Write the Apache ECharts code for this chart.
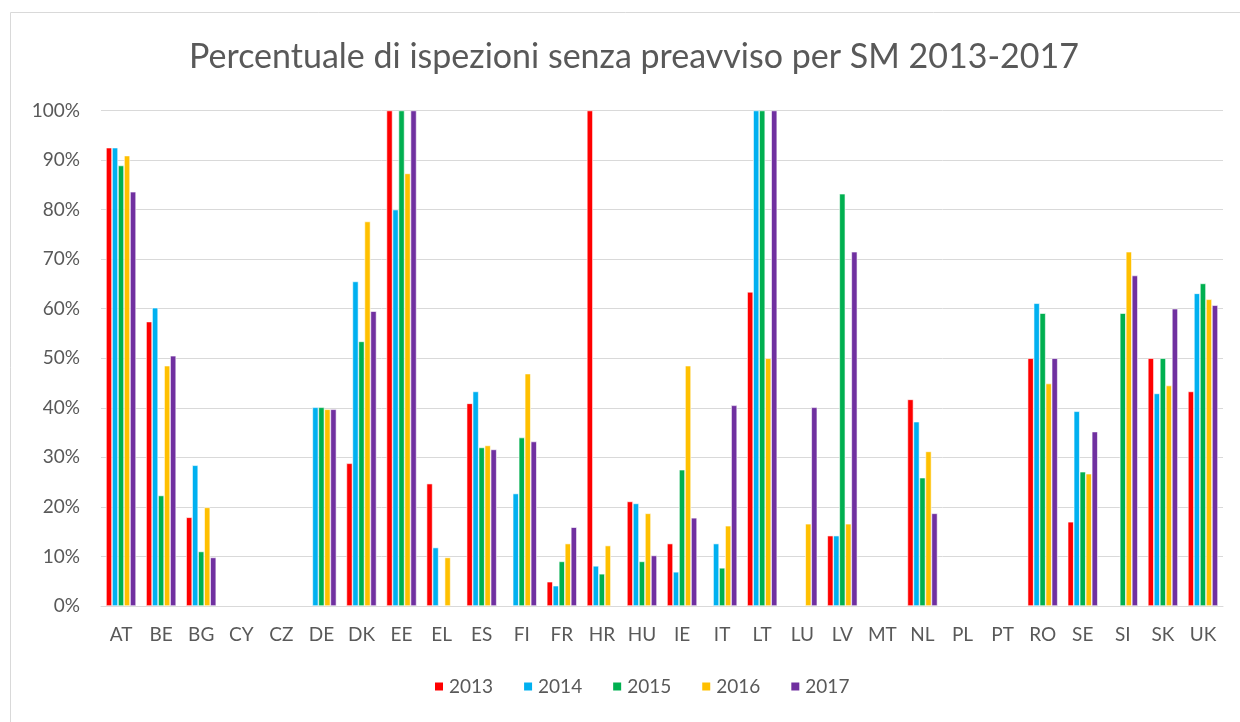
<!DOCTYPE html>
<html>
<head>
<meta charset="utf-8">
<script src="https://cdn.jsdelivr.net/npm/echarts@6/dist/echarts.min.js"></script>
<style>
  html, body { margin: 0; padding: 0; background: #fff; }
  #chart { width: 1240px; height: 722px; }
</style>
</head>
<body>
<div id="chart"></div>
<script>
// member states (x axis)
const countries = ['AT', 'BE', 'BG', 'CY', 'CZ', 'DE', 'DK', 'EE', 'EL', 'ES', 'FI', 'FR', 'HR', 'HU',
    'IE', 'IT', 'LT', 'LU', 'LV', 'MT', 'NL', 'PL', 'PT', 'RO', 'SE', 'SI', 'SK', 'UK'];

// percentage per year, null = no bar
const y2013 = [92.5, 57.4, 17.9, null, null, null, 28.8, 100, 24.7, 40.9, null, 4.9, 100, 21.1,
    12.6, null, 63.4, null, 14.2, null, 41.7, null, null, 50, 17, null, 50, 43.3];
const y2014 = [92.5, 60.2, 28.4, null, null, 40.1, 65.5, 80, 11.8, 43.3, 22.7, 4.1, 8.1, 20.7,
    6.9, 12.6, 100, null, 14.2, null, 37.2, null, null, 61.1, 39.3, null, 42.9, 63.1];
const y2015 = [88.9, 22.3, 11, null, null, 40.1, 53.4, 100, null, 32, 34, 9, 6.5, 9,
    27.5, 7.7, 100, null, 83.2, null, 25.9, null, null, 59.1, 27.1, 59.1, 50, 65.1];
const y2016 = [90.9, 48.5, 19.9, null, null, 39.7, 77.6, 87.3, 9.8, 32.4, 46.9, 12.6, 12.2, 18.7,
    48.5, 16.2, 50, 16.6, 16.6, null, 31.2, null, null, 44.9, 26.7, 71.5, 44.5, 61.9];
const y2017 = [83.6, 50.5, 9.8, null, null, 39.7, 59.5, 100, null, 31.6, 33.2, 15.9, null, 10.2,
    17.8, 40.5, 100, 40.1, 71.5, null, 18.7, null, null, 50, 35.2, 66.7, 60, 60.7];

const years = ['2013', '2014', '2015', '2016', '2017'];
const yearData = [y2013, y2014, y2015, y2016, y2017];
const colors = ['#FF0000', '#00B0F0', '#00B050', '#FFC000', '#7030A0'];

const textColor = '#595959';
const font = 'Lato, "Open Sans", sans-serif';

const chart = echarts.init(document.getElementById('chart'));
const option = {
    animation: false,
    color: colors,
    title: {
        text: 'Percentuale di ispezioni senza preavviso per SM 2013-2017',
        left: 184,
        top: 35,
        textStyle: {
            color: textColor,
            fontFamily: font,
            fontWeight: 'normal',
            fontSize: 34
        }
    },
    graphic: [{
        type: 'rect',
        shape: { x: 10.5, y: 12.5, width: 1240, height: 720 },
        style: { fill: 'none', stroke: '#d9d9d9', lineWidth: 1 },
        silent: true
    }],
    legend: {
        bottom: 21,
        left: 428,
        itemWidth: 10,
        itemHeight: 10,
        itemGap: 29,
        icon: 'rect',
        textStyle: { color: textColor, fontFamily: font, fontSize: 19 },
        data: years
    },
    grid: {
        left: 101,
        right: 17,
        top: 110.5,
        bottom: 116,
        containLabel: false
    },
    xAxis: {
        type: 'category',
        data: countries,
        axisTick: { show: false },
        axisLine: { lineStyle: { color: '#d9d9d9', width: 1 } },
        axisLabel: {
            color: textColor,
            fontFamily: font,
            fontSize: 19,
            margin: 19,
            interval: 0
        }
    },
    yAxis: {
        type: 'value',
        min: 0,
        max: 100,
        interval: 10,
        axisLine: { show: false },
        axisTick: { show: false },
        splitLine: { lineStyle: { color: '#d9d9d9', width: 1 } },
        axisLabel: {
            color: textColor,
            fontFamily: font,
            fontSize: 19,
            margin: 21,
            formatter: '{value}%'
        }
    },
    series: years.map((yr, i) => ({
        name: yr,
        type: 'bar',
        data: yearData[i],
        barGap: '0%',
        barCategoryGap: '25%',
        itemStyle: { color: colors[i], borderColor: '#ffffff', borderWidth: 0.6 }
    }))
};
chart.setOption(option);
</script>
</body>
</html>
